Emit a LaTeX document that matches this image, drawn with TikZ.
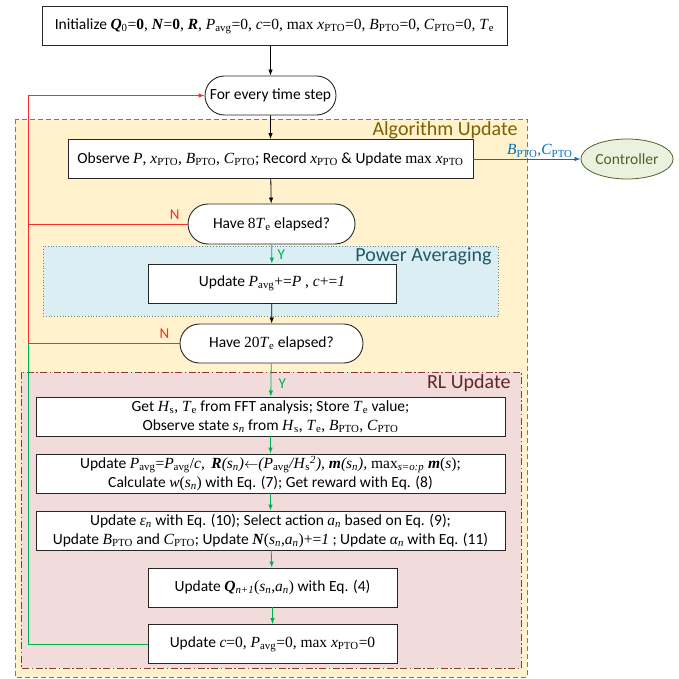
\documentclass[tikz,border=0pt]{standalone}
\usepackage{fontspec}
\setmainfont{Carlito}
\newfontfamily\tnr{Liberation Serif}
\usetikzlibrary{arrows.meta,shapes.misc,shapes.geometric}
\definecolor{algofill}{HTML}{FFF2CC}
\definecolor{algoline}{HTML}{9C7A1C}
\definecolor{algotext}{HTML}{7F6000}
\definecolor{powfill}{HTML}{DAEEF3}
\definecolor{powline}{HTML}{5B8A99}
\definecolor{powtext}{HTML}{215968}
\definecolor{rlfill}{HTML}{F2DCDB}
\definecolor{rlline}{HTML}{8B3A3A}
\definecolor{rltext}{HTML}{632523}
\definecolor{noline}{HTML}{FF2A2A}
\definecolor{yesline}{HTML}{00B050}
\definecolor{ctrlline}{HTML}{0070C0}
\definecolor{ctrlfill}{HTML}{EBF1DE}
\definecolor{ctrltext}{HTML}{4F6228}
\newcommand{\tm}[1]{{\tnr #1}}
\newcommand{\bi}[1]{\textbf{\textit{#1}}}
\newcommand{\pto}{\textsubscript{PTO}}
\newcommand{\avg}{\textsubscript{avg}}

\begin{document}
\begin{tikzpicture}[x=1pt,y=-1pt,
    box/.style={draw=black!85, line width=0.9pt, fill=white, minimum height=39,
      inner sep=2pt, align=center, font=\fontsize{15.5}{19}\selectfont},
    term/.style={box, rounded rectangle},
    arr/.style={line width=0.8pt, -{Latex[length=6pt,width=4.5pt]}},
    yesarr/.style={arr, draw=yesline},
    noline/.style={line width=0.8pt, draw=noline},
    yesline/.style={line width=0.8pt, draw=yesline},
    region/.style={font=\fontsize{20}{24}\selectfont, anchor=east},
    flag/.style={font=\fontsize{15}{18}\selectfont}]
  \useasboundingbox (0,0) rectangle (678,679);

  % group backgrounds
  \draw[algoline, fill=algofill, line width=0.9pt, dashed, dash pattern=on 5pt off 3pt]
    (15,119) rectangle (527,677);
  \node[region, text=algotext] (algolbl) at (521,130) {Algorithm Update};
  \draw[powline, fill=powfill, line width=0.8pt, dotted] (43,246) rectangle (498,316);
  \node[region, text=powtext] (powlbl) at (495,256) {Power Averaging};
  \draw[rlline, fill=rlfill, line width=0.9pt, dash pattern=on 7pt off 2.5pt on 1.5pt off 2.5pt]
    (21,372) rectangle (521,668);
  \node[region, text=rltext] (rllbl) at (514,383) {RL Update};

  % steps
  \node[box, minimum width=465] (init) at (274.5,26)
    {Initialize \tm{\bi{Q}\textsubscript{0}=\textbf{0}, \bi{N}=\textbf{0}, \bi{R}, \textit{P}\avg=0, \textit{c}=0, max \textit{x}\pto=0, \textit{B}\pto=0, \textit{C}\pto=0, \textit{T}\textsubscript{e}}};
  \node[term, minimum width=135] (step) at (270.5,95.5) {For every time step};
  \node[box, minimum width=405] (observe) at (270.5,159)
    {Observe \tm{\textit{P}, \textit{x}\pto, \textit{B}\pto, \textit{C}\pto;} Record \tm{\textit{x}\pto} \& Update \tm{max \textit{x}\pto}};
  \node[ellipse, draw=ctrltext, fill=ctrlfill, line width=0.8pt, minimum width=88, minimum height=40,
    inner sep=1pt, text=ctrltext, font=\fontsize{15.5}{19}\selectfont] (ctrl) at (627,159) {Controller};
  \node[term, minimum width=171, minimum height=40] (have8) at (271.5,224)
    {Have \tm{8\textit{T}\textsubscript{e}} elapsed?};
  \node[box, minimum width=248] (updP) at (272,283.5)
    {Update \tm{\textit{P}\avg+=\textit{P} , \textit{c}+=\textit{1}}};
  \node[term, minimum width=187] (have20) at (271.5,343.5)
    {Have \tm{20\textit{T}\textsubscript{e}} elapsed?};
  \node[box, minimum width=469] (get) at (270.5,416.5)
    {Get \tm{\textit{H}\textsubscript{s}, \textit{T}\textsubscript{e}} from FFT analysis; Store \tm{\textit{T}\textsubscript{e}} value;\\
     Observe state \tm{\textit{s\textsubscript{n}}} from \tm{\textit{H}\textsubscript{s}, \textit{T}\textsubscript{e}, \textit{B}\pto, \textit{C}\pto}};
  \node[box, minimum width=469] (calc) at (270.5,473.5)
    {Update \tm{\textit{P}\avg=\textit{P}\avg/\textit{c},\, \bi{R}\textit{(s\textsubscript{n})}$\leftarrow$\textit{(P}\avg\textit{/H}\textsubscript{s}\textsuperscript{\textit{2}}\textit{), }\bi{m}\textit{(s\textsubscript{n}), }max\textsubscript{\textit{s=o:p}} \bi{m}(\textit{s});}\\
     Calculate \tm{\textit{w}(\textit{s\textsubscript{n}})} with Eq. (7); Get reward with Eq. (8)};
  \node[box, minimum width=469] (act) at (270.5,530.5)
    {Update \tm{\textit{ε\textsubscript{n}}} with Eq. (10); Select action \tm{\textit{a\textsubscript{n}}} based on Eq. (9);\\
     Update \tm{\textit{B}\pto} and \tm{\textit{C}\pto}; Update \tm{\bi{N}(\textit{s\textsubscript{n}},\textit{a\textsubscript{n}})+=\textit{1}} ; Update \tm{\textit{α\textsubscript{n}}} with Eq. (11)};
  \node[box, minimum width=249] (updQ) at (272.5,587.5)
    {Update \tm{\bi{Q}\textsubscript{\textit{n+1}}(\textit{s\textsubscript{n}},\textit{a\textsubscript{n}})} with Eq. (4)};
  \node[box, minimum width=249] (reset) at (272.5,644)
    {Update \tm{\textit{c}=0, \textit{P}\avg=0, max \textit{x}\pto=0}};
  \coordinate (loopx) at (28,0);

  % main flow
  \draw[arr] (init.south -| step.north) -- (step.north);
  \draw[arr] (step) -- (observe);
  \draw[arr] (observe) -- (have8);
  \draw[yesarr] (have8) -- node[pos=0.55, right=2pt, flag, text=yesline] {Y} (updP);
  \draw[arr] (updP) -- (have20);
  \draw[yesarr] (have20) -- node[pos=0.6, right=4pt, flag, text=yesline] {Y} (get);
  \draw[yesarr] (get) -- (calc);
  \draw[yesarr] (calc) -- (act);
  \draw[yesarr] (act) -- (updQ);
  \draw[yesarr] (updQ) -- (reset);

  % loops back
  \draw[yesline] (reset.west) -| (loopx |- have20.west);
  \draw[noline] (have20.west) -- node[pos=0.1, above=1pt, flag, text=noline] {N} (loopx |- have20.west);
  \draw[noline, -{Latex[length=6pt,width=4.5pt]}] (have8.west)
    -- node[pos=0.08, above=1pt, flag, text=noline] {N} (loopx |- have8.west)
    |- (step.west);
  \draw[noline] (loopx |- have20.west) -- (loopx |- have8.west);

  % to the controller
  \draw[arr, draw=ctrlline] (observe.east) -- node[pos=0.62, above=-2pt, text=ctrlline,
    font=\fontsize{15.5}{19}\selectfont] {\tm{\textit{B}\pto,\textit{C}\pto}} (ctrl.west);
\end{tikzpicture}
\end{document}
